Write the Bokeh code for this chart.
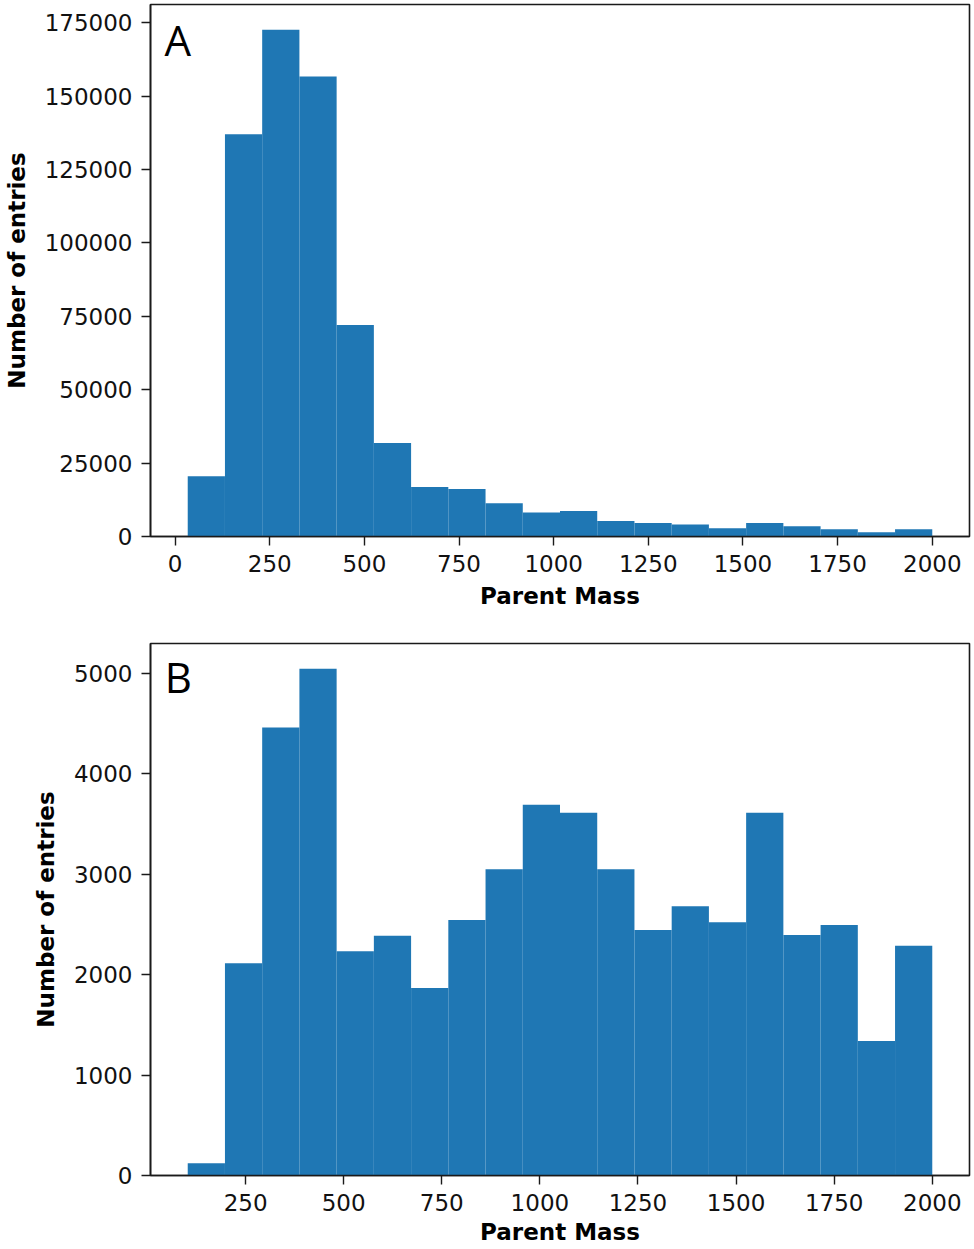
import numpy as np
from bokeh.plotting import figure
from bokeh.layouts import column
from bokeh.models import Range1d, FixedTicker, Label, BasicTickFormatter
from bokeh.embed import file_html
from bokeh.resources import INLINE

# ---- data ----
x_ticks = [0, 250, 500, 750, 1000, 1250, 1500, 1750, 2000]

# Panel A: histogram of parent masses (20 bins)
mass_min_a = 33.4
mass_max_a = 2000.0
counts_a = [20530, 137070, 172600, 156720, 72040, 31870, 16890, 16210, 11340, 8170,
            8720, 5310, 4630, 4090, 2830, 4630, 3510, 2490, 1460, 2490]
y_ticks_a = [0, 25000, 50000, 75000, 100000, 125000, 150000, 175000]

# Panel B: histogram of parent masses (20 bins)
mass_min_b = 102.5
mass_max_b = 2000.0
counts_b = [122, 2113, 4460, 5043, 2232, 2387, 1865, 2543, 3049, 3690,
            3611, 3049, 2443, 2679, 2520, 3611, 2394, 2493, 1339, 2288]
y_ticks_b = [0, 1000, 2000, 3000, 4000, 5000]

BAR = "#1f77b4"
TICK_FONT = "DejaVu Sans"
FS = "23px"


def make_panel(counts, mmin, mmax, yticks, letter, letter_x, letter_y,
               width, height, bl, bt, bb, br, xlab_standoff):
    edges = np.linspace(mmin, mmax, len(counts) + 1)
    span = mmax - mmin
    xr = Range1d(mmin - 0.05 * span, mmax + 0.05 * span)
    yr = Range1d(0, 1.05 * max(counts))
    p = figure(width=width, height=height, x_range=xr, y_range=yr,
               output_backend="svg", toolbar_location=None,
               min_border_left=bl, min_border_top=bt, min_border_bottom=bb,
               min_border_right=br)
    p.quad(left=edges[:-1], right=edges[1:], bottom=0, top=counts,
           fill_color=BAR, line_color=None)
    p.grid.visible = False
    p.background_fill_color = "white"
    p.border_fill_color = "white"
    p.outline_line_color = "#1a1a1a"
    p.outline_line_width = 1.6
    for ax in (p.xaxis[0], p.yaxis[0]):
        ax.axis_line_color = "#1a1a1a"
        ax.axis_line_width = 1.6
        ax.major_tick_line_color = "#1a1a1a"
        ax.major_tick_line_width = 1.4
        ax.major_tick_out = 9
        ax.major_tick_in = 0
        ax.minor_tick_line_color = None
        ax.major_label_text_font = TICK_FONT
        ax.major_label_text_font_size = FS
        ax.major_label_text_color = "#111111"
        ax.major_label_standoff = 9
        ax.axis_label_text_font = TICK_FONT
        ax.axis_label_text_font_size = FS
        ax.axis_label_text_font_style = "bold"
        ax.axis_label_text_color = "black"
    p.xaxis.ticker = FixedTicker(ticks=x_ticks)
    p.yaxis.ticker = FixedTicker(ticks=yticks)
    p.yaxis.formatter = BasicTickFormatter(use_scientific=False)
    p.xaxis.axis_label = "Parent Mass"
    p.yaxis.axis_label = "Number of entries"
    p.xaxis.axis_label_standoff = xlab_standoff
    p.yaxis.axis_label_standoff = 12
    p.add_layout(Label(x=letter_x, y=letter_y, text=letter,
                       text_font="Open Sans", text_font_size="42px",
                       text_baseline="bottom", text_color="black"))
    return p


pa = make_panel(counts_a, mass_min_a, mass_max_a, y_ticks_a, "A", -28, 159600,
                width=972, height=621, bl=148, bt=4, bb=85, br=3, xlab_standoff=8)
pb = make_panel(counts_b, mass_min_b, mass_max_b, y_ticks_b, "B", 44, 4680,
                width=972, height=627, bl=146, bt=22, bb=73, br=3, xlab_standoff=5)

layout = column(pa, pb, spacing=0)
open("out.html", "w").write(file_html(layout, INLINE))
